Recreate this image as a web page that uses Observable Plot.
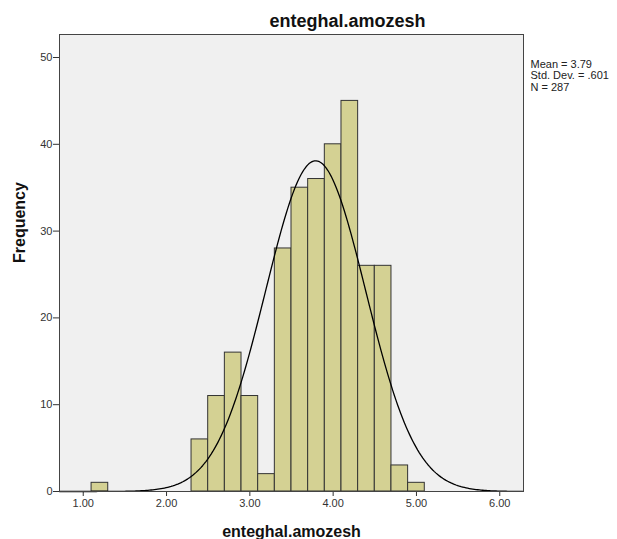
<!DOCTYPE html>
<html><head><meta charset="utf-8">
<script src="https://cdn.jsdelivr.net/npm/d3@7"></script>
<script src="https://cdn.jsdelivr.net/npm/@observablehq/plot@0.6"></script>
<style>body{margin:0;background:#fff;}</style>
</head><body><div id="chart"></div>
<script>
const binLow  = [1.1, 2.3, 2.5, 2.7, 2.9, 3.1, 3.3, 3.5, 3.7, 3.9, 4.1, 4.3, 4.5, 4.7, 4.9];
const binHigh = [1.3, 2.5, 2.7, 2.9, 3.1, 3.3, 3.5, 3.7, 3.9, 4.1, 4.3, 4.5, 4.7, 4.9, 5.1];
const counts  = [1, 6, 11, 16, 11, 2, 28, 35, 36, 40, 45, 26, 26, 3, 1];
const xTicks = [1, 2, 3, 4, 5, 6];
const yTicks = [0, 10, 20, 30, 40, 50];
const titleText = "enteghal.amozesh";
const xLabel = "enteghal.amozesh";
const yLabel = "Frequency";
const statLines = ["Mean = 3.79", "Std. Dev. = .601", "N = 287"];
const mean = 3.79, sd = 0.601, n = 287, binWidth = 0.2;

const xDomain = [0.715, 6.285];
const bars = binLow.map((lo, i) => ({lo, hi: binHigh[i], count: counts[i]}));
const curve = d3.range(xDomain[0], xDomain[1] + 1e-9, 0.02).map(x => ({
  x,
  y: n * binWidth * Math.exp(-0.5 * ((x - mean) / sd) ** 2) / (sd * Math.sqrt(2 * Math.PI))
}));

const chart = Plot.plot({
  width: 617, height: 539,
  marginLeft: 59, marginRight: 94, marginTop: 34, marginBottom: 48,
  style: {fontFamily: "'Liberation Sans', Arial, sans-serif", fontSize: "11px", color: "#333", background: "#fff"},
  x: {domain: xDomain, ticks: xTicks, tickFormat: d => d.toFixed(2), label: null, tickSize: 5, tickPadding: 3},
  y: {domain: [0, 52.65], ticks: yTicks, label: null, tickSize: 6, tickPadding: 1},
  marks: [
    Plot.frame({fill: "#f0f0f0", stroke: null}),
    Plot.rectY(bars, {x1: "lo", x2: "hi", y1: 0, y2: "count", fill: "#d4d193", stroke: "#333", strokeWidth: 1}),
    Plot.line(curve, {x: "x", y: "y", stroke: "#000", strokeWidth: 1.3}),
    Plot.frame({stroke: "#444"}),
    Plot.text([titleText], {frameAnchor: "top", dx: 56, dy: -8, lineAnchor: "bottom", fontWeight: "bold", fontSize: 18, fill: "#111"}),
    Plot.text([yLabel], {frameAnchor: "left", dx: -40, rotate: -90, fontWeight: "bold", fontSize: 16, fill: "#111"}),
    Plot.text([xLabel], {frameAnchor: "bottom", dy: 45, lineAnchor: "bottom", fontWeight: "bold", fontSize: 16, fill: "#111"}),
    Plot.text([statLines.join("\n")], {frameAnchor: "top-right", dx: 7, dy: 25, textAnchor: "start", lineAnchor: "top", lineHeight: 1.05, fontSize: 11, fill: "#222"})
  ]
});
document.getElementById("chart").appendChild(chart);
</script>
</body></html>
